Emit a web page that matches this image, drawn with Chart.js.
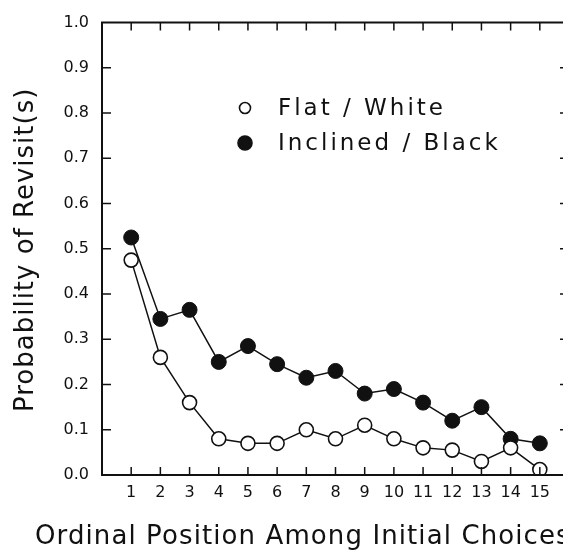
<!DOCTYPE html>
<html>
<head>
<meta charset="utf-8">
<script src="https://cdn.jsdelivr.net/npm/chart.js@4"></script>
<style>
  html, body { margin: 0; padding: 0; background: #fff; overflow: hidden; }
  #wrap { width: 600px; height: 555px; }
</style>
</head>
<body>
<div id="wrap"><canvas id="c" width="600" height="555"></canvas></div>
<script>
// ---- data ----
const positions = [1, 2, 3, 4, 5, 6, 7, 8, 9, 10, 11, 12, 13, 14, 15];
const flatWhite = [0.475, 0.26, 0.16, 0.08, 0.07, 0.07, 0.10, 0.08, 0.11, 0.08, 0.06, 0.055, 0.03, 0.06, 0.012];
const inclinedBlack = [0.525, 0.345, 0.365, 0.25, 0.285, 0.245, 0.215, 0.23, 0.18, 0.19, 0.16, 0.12, 0.15, 0.08, 0.07];
const xTickLabels = ['1','2','3','4','5','6','7','8','9','10','11','12','13','14','15'];
const yTickValues = [0.0, 0.1, 0.2, 0.3, 0.4, 0.5, 0.6, 0.7, 0.8, 0.9, 1.0];
const seriesNames = ['Flat / White', 'Inclined / Black'];
const xTitle = 'Ordinal Position Among Initial Choices';
const yTitle = 'Probability of Revisit(s)';

const INK = '#111';
const FONT = "'DejaVu Sans', sans-serif";

const toPts = arr => positions.map((p, i) => ({ x: p, y: arr[i] }));

const framePlugin = {
  id: 'frame',
  afterDraw(chart) {
    const ctx = chart.ctx;
    const a = chart.chartArea;
    const xs = chart.scales.x, ys = chart.scales.y;
    ctx.save();
    ctx.strokeStyle = INK;
    ctx.lineWidth = 2;
    // box
    ctx.beginPath();
    ctx.moveTo(a.left, a.top); ctx.lineTo(a.right, a.top);
    ctx.lineTo(a.right, a.bottom); ctx.lineTo(a.left, a.bottom);
    ctx.closePath();
    ctx.stroke();
    // inward ticks
    ctx.lineWidth = 1.5;
    ctx.beginPath();
    positions.forEach(p => {
      const px = xs.getPixelForValue(p);
      ctx.moveTo(px, a.bottom); ctx.lineTo(px, a.bottom - 8);
      ctx.moveTo(px, a.top); ctx.lineTo(px, a.top + 8);
    });
    yTickValues.forEach(v => {
      if (v <= 0 || v >= 1) return;
      const py = ys.getPixelForValue(v);
      ctx.moveTo(a.left, py); ctx.lineTo(a.left + 9, py);
      ctx.moveTo(a.right, py); ctx.lineTo(a.right - 9, py);
    });
    ctx.stroke();

    // titles
    ctx.fillStyle = INK;
    ctx.font = '26px ' + FONT;
    ctx.letterSpacing = '1.1px';
    ctx.textAlign = 'left';
    ctx.textBaseline = 'alphabetic';
    ctx.fillText(xTitle, 35, 544);
    ctx.save();
    ctx.translate(33, 412);
    ctx.rotate(-Math.PI / 2);
    ctx.letterSpacing = '1px';
    ctx.fillText(yTitle, 0, 0);
    ctx.restore();

    // legend
    const ds = chart.data.datasets;
    const rows = [108, 143];
    ctx.font = '23px ' + FONT;
    ctx.letterSpacing = '3px';
    ctx.textBaseline = 'middle';
    rows.forEach((yy, i) => {
      const d = ds[i];
      ctx.beginPath();
      ctx.arc(245, yy, i === 0 ? 5.5 : 7, 0, Math.PI * 2);
      ctx.fillStyle = d.pointBackgroundColor;
      ctx.fill();
      ctx.lineWidth = 1.6;
      ctx.strokeStyle = INK;
      ctx.stroke();
      ctx.fillStyle = INK;
      ctx.fillText(d.label, 278, yy + 1);
    });
    ctx.restore();
  }
};

new Chart(document.getElementById('c'), {
  type: 'line',
  data: {
    datasets: [
      {
        label: seriesNames[0],
        data: toPts(flatWhite),
        borderColor: INK,
        borderWidth: 1.5,
        pointRadius: 7,
        pointBorderWidth: 1.6,
        pointBackgroundColor: '#ffffff',
        pointBorderColor: INK,
        tension: 0
      },
      {
        label: seriesNames[1],
        data: toPts(inclinedBlack),
        borderColor: INK,
        borderWidth: 1.5,
        pointRadius: 7.5,
        pointBorderWidth: 1,
        pointBackgroundColor: INK,
        pointBorderColor: INK,
        tension: 0
      }
    ]
  },
  options: {
    responsive: false,
    animation: false,
    devicePixelRatio: 1,
    layout: { padding: { top: 13, right: 31, left: 0, bottom: 0 } },
    plugins: { legend: { display: false }, tooltip: { enabled: false } },
    scales: {
      x: {
        type: 'linear',
        min: 0, max: 16,
        afterFit(s) { s.height = 80; },
        afterBuildTicks(s) { s.ticks = positions.map(p => ({ value: p })); },
        grid: { display: false, drawTicks: false },
        border: { display: false },
        ticks: {
          autoSkip: false, maxRotation: 0, padding: 8,
          color: INK, font: { family: FONT, size: 16 },
          callback: (v) => { const i = positions.indexOf(v); return i >= 0 ? xTickLabels[i] : ''; }
        }
      },
      y: {
        min: 0, max: 1,
        afterFit(s) { s.width = 102; },
        afterBuildTicks(s) { s.ticks = yTickValues.map(v => ({ value: v })); },
        grid: { display: false, drawTicks: false },
        border: { display: false },
        ticks: {
          padding: 13,
          color: INK, font: { family: FONT, size: 16 },
          callback: (v) => Number(v).toFixed(1)
        }
      }
    }
  },
  plugins: [framePlugin]
});
</script>
</body>
</html>
